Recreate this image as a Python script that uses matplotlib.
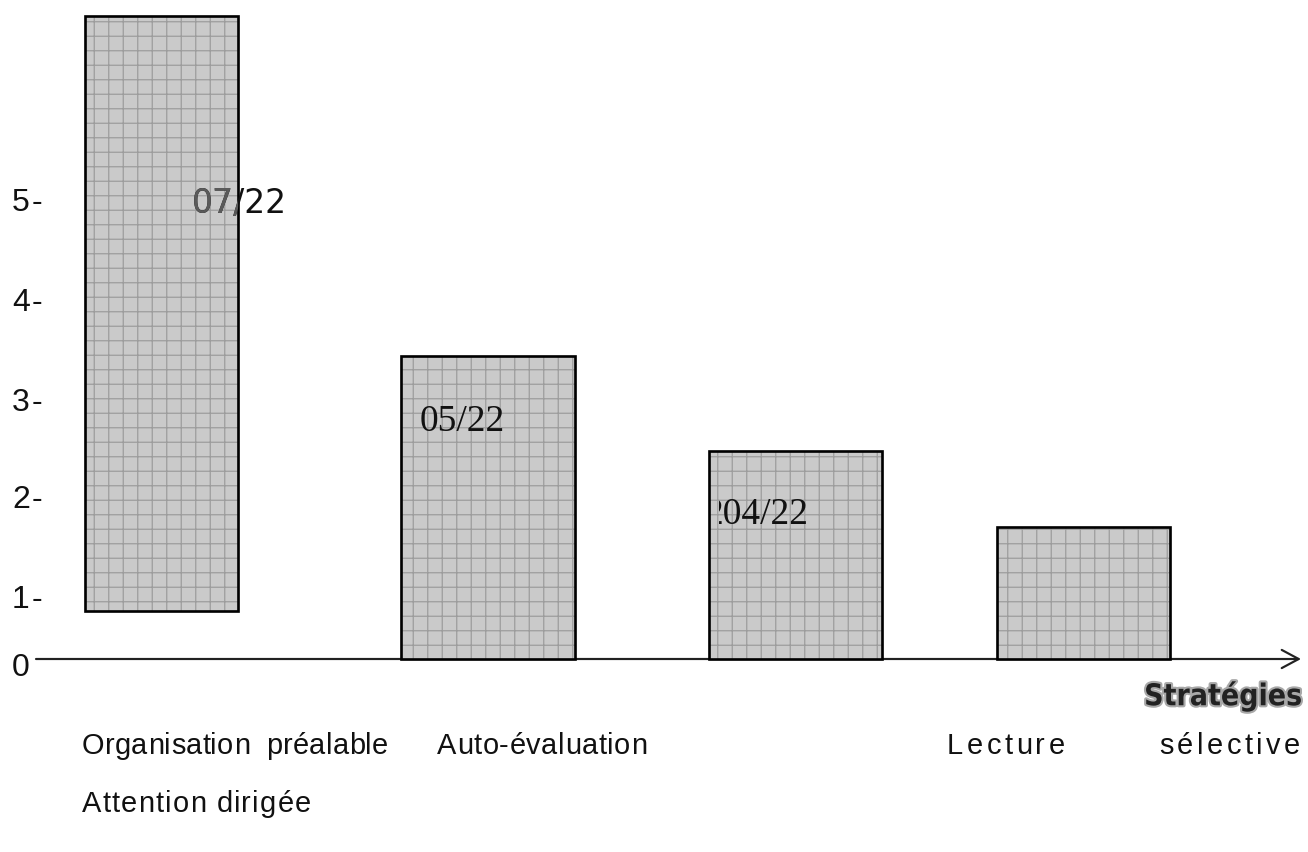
import matplotlib
matplotlib.use("Agg")
import matplotlib.pyplot as plt
from matplotlib.transforms import Bbox, TransformedBbox
from matplotlib.font_manager import FontProperties, findfont, get_font
from matplotlib.ft2font import LoadFlags
import matplotlib.patheffects as pe

# ---- data (1 unit = one y-label step) ----
strategies = ["Attention dirigée", "Organisation préalable", "Auto-évaluation", "Lecture sélective"]
bar_tops = [6.43, 3.03, 2.08, 1.32]
bar_bottoms = [0.48, 0.0, 0.0, 0.0]
value_labels = ["07/22", "05/22", "204/22"]
ytick_labels = ["0", "1-", "2-", "3-", "4-", "5-"]

# ---- layout (pixel-like x coordinates, y in data units) ----
DPI = 87.2
W, H = 1308, 852
bar_left = [85, 401, 709, 997]
bar_width = [153, 174, 173, 173]
ytick_pos = [-0.09, 0.59, 1.59, 2.56, 3.56, 4.56]
SANS = "Liberation Sans"

plt.rcParams["hatch.linewidth"] = 1.0
plt.rcParams["hatch.color"] = "#9c9c9c"

fig = plt.figure(figsize=(W / DPI, H / DPI), dpi=DPI)
ax = fig.add_axes([0, 0, 1, 1])
ax.set_xlim(0, W)
ax.set_ylim(-1.93, 6.59)
ax.axis("off")

def pt(px):
    return px * 72.0 / DPI

def clipbox(x0, y0, x1, y1):
    return TransformedBbox(Bbox.from_extents(x0, y0, x1, y1), ax.transData)

def advances(s, family, size_px):
    font = get_font(findfont(FontProperties(family=family)))
    font.set_size(pt(size_px), DPI)
    out = []
    for c in s:
        g = font.load_char(ord(c), flags=LoadFlags.NO_HINTING)
        out.append(g.linearHoriAdvance / 65536.0)
    return out

def spaced(x, y, s, size_px, spacing, ha="left", family=SANS, color="#111111"):
    adv = advances(s, family, size_px)
    total = sum(adv) + spacing * (len(s) - 1)
    x0 = x if ha == "left" else x - total
    for c, a in zip(s, adv):
        if c != " ":
            ax.text(x0, y, c, fontsize=pt(size_px), family=family, color=color,
                    ha="left", va="center")
        x0 += a + spacing

heights = [t - b for t, b in zip(bar_tops, bar_bottoms)]
# hatched grey fill
ax.bar(bar_left, heights, width=bar_width, bottom=bar_bottoms, align="edge",
       color="#cacaca", edgecolor="#9c9c9c", hatch="+", linewidth=0, zorder=2)
# black outlines
ax.bar(bar_left, heights, width=bar_width, bottom=bar_bottoms, align="edge",
       fill=False, edgecolor="black", linewidth=2.2, zorder=3)

# baseline with open arrow
ax.annotate("", xy=(1301, 0), xytext=(36, 0),
            arrowprops=dict(arrowstyle="->,head_length=14,head_width=7.5",
                            mutation_scale=1, lw=1.8, color="#222222",
                            shrinkA=0, shrinkB=0), zorder=1)

# y labels
for p, lab in zip(ytick_pos, ytick_labels):
    spaced(12, p, lab, 32, 2)

# value labels
ax.text(192, 4.56, value_labels[0], fontsize=pt(33), family="DejaVu Sans",
        color="#111111", ha="left", va="center", zorder=4)
t1b = ax.text(192, 4.56, value_labels[0], fontsize=pt(33), family="DejaVu Sans",
              color="#5a5a5a", ha="left", va="center", zorder=5)
t1b.set_clip_box(clipbox(bar_left[0], bar_bottoms[0],
                         bar_left[0] + bar_width[0], bar_tops[0]))
t1b.set_clip_on(True)

ax.text(420, 2.37, value_labels[1], fontsize=pt(37.5), family="Liberation Serif",
        color="#111111", ha="left", va="center", zorder=4)
t3 = ax.text(704, 1.44, value_labels[2], fontsize=pt(37.5), family="Liberation Serif",
             color="#111111", ha="left", va="center", zorder=4)
t3.set_clip_box(clipbox(719, 0, 900, 3))
t3.set_clip_on(True)

# axis title
ax.text(1302, -0.37, "Stratégies", fontsize=pt(30), family="DejaVu Sans",
        fontweight="heavy", fontstretch="condensed", color="#222222",
        ha="right", va="center",
        path_effects=[pe.withStroke(linewidth=3.5, foreground="#a8a8a8")])

# category labels (letter-spaced, as in the reference)
w_org, w_pre = strategies[1].split(" ")
w_lec, w_sel = strategies[3].split(" ")
row1, row2 = -0.87, -1.45
FS = 29
spaced(82, row1, w_org, FS, 0.3)
spaced(388, row1, w_pre, FS, 0.3, ha="right")
spaced(437, row1, strategies[2], FS, 0.6)
spaced(947, row1, w_lec, FS, 3.5)
spaced(1300, row1, w_sel, FS, 3.5, ha="right")
spaced(82, row2, strategies[0], FS, 1.2)

fig.savefig("out.png", dpi=DPI)
